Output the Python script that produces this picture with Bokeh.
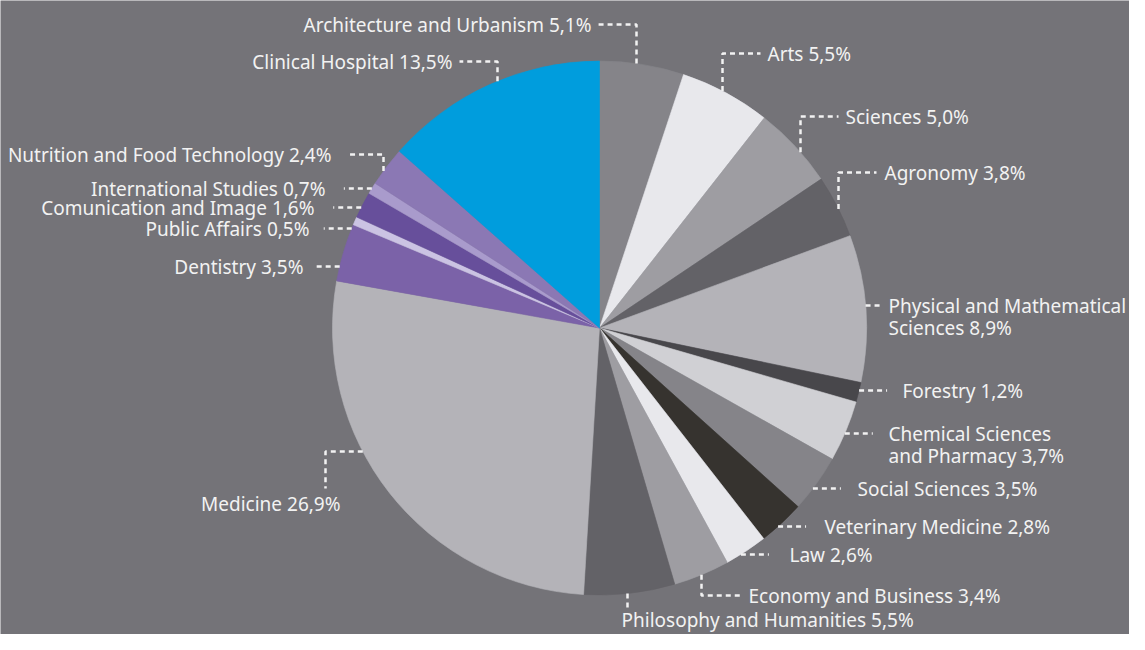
import numpy as np
from bokeh.plotting import figure
from bokeh.models import Range1d
from bokeh.embed import file_html
from bokeh.resources import INLINE
from bokeh.core.properties import value

# ---- data ----
categories = ["Architecture and Urbanism", "Arts", "Sciences", "Agronomy",
              "Physical and Mathematical Sciences", "Forestry",
              "Chemical Sciences and Pharmacy", "Social Sciences",
              "Veterinary Medicine", "Law", "Economy and Business",
              "Philosophy and Humanities", "Medicine", "Dentistry",
              "Public Affairs", "Comunication and Image", "International Studies",
              "Nutrition and Food Technology", "Clinical Hospital"]
shares = [5.1, 5.5, 5.0, 3.8, 8.9, 1.2, 3.7, 3.5, 2.8, 2.6, 3.4, 5.5, 26.9,
          3.5, 0.5, 1.6, 0.7, 2.4, 13.5]

# ---- styles ----
slice_colors = ["#858489", "#e8e8ec", "#9e9da2", "#636267", "#b4b3b8", "#48474b",
                "#d0d0d4", "#858489", "#36332f", "#e8e8ec", "#9e9da2", "#636267",
                "#b4b3b8", "#7b62a8", "#cbc3e3", "#674f9b", "#a99bcc", "#8b78b4",
                "#009ddd"]
BG = "#747378"
FG = "#f2f2f2"

# ---- layout (picture pixel coordinates, origin top-left) ----
W, H = 1129, 634
CX, CY, R = 599.0, 327.5, 267.0
# kind, text x, text y, align, wrap(after n words), leader params
layout = [
    ("elbow", 591, 24, "right", 0, dict(vx=636, ly=24, hx=598)),
    ("elbow", 767, 53, "left", 0, dict(vx=722, ly=53, hx=760)),
    ("elbow", 845, 116, "left", 0, dict(vx=800, ly=116, hx=838)),
    ("elbow", 884, 172, "left", 0, dict(vx=838, ly=172, hx=876)),
    ("h", 888, 305, "left", 3, dict(ly=305, ln=16)),
    ("h", 902, 390, "left", 0, dict(ly=390, ln=28)),
    ("h", 888, 433, "left", 2, dict(ly=433, ln=28)),
    ("h", 857, 488, "left", 0, dict(ly=488, ln=28)),
    ("h", 824, 526, "left", 0, dict(ly=526, ln=28)),
    ("h", 789, 554, "left", 0, dict(ly=554, ln=28)),
    ("elbow", 748, 595, "left", 0, dict(vx=701, ly=595, hx=740)),
    ("v", 621, 619, "left", 0, dict(vx=627, ly=607)),
    ("hv", 340, 503, "right", 0, dict(hy=451, vx=325, ly=488)),
    ("h", 303, 266, "right", 0, dict(ly=266, ln=26)),
    ("h", 309, 228, "right", 0, dict(ly=228, ln=28)),
    ("h", 314, 207, "right", 0, dict(ly=207, ln=28)),
    ("h", 325, 188, "right", 0, dict(ly=188, ln=28)),
    ("elbow", 331, 154, "right", 0, dict(vx=383, ly=154, hx=346)),
    ("elbow", 452, 61, "right", 0, dict(vx=497, ly=61, hx=459)),
]

def Y(y):
    return H - y

p = figure(width=W, height=H, output_backend="svg", toolbar_location=None,
           x_range=Range1d(0, W), y_range=Range1d(0, H),
           x_axis_location=None, y_axis_location=None, min_border=0)
p.grid.visible = False
p.outline_line_color = None
p.background_fill_color = BG
p.border_fill_color = BG

# ---- wedges ----
vals = np.array(shares, dtype=float)
frac = vals / vals.sum()
cum_end = np.cumsum(frac)
cum_start = cum_end - frac
start_angle = np.pi / 2 - 2 * np.pi * cum_end
end_angle = np.pi / 2 - 2 * np.pi * cum_start
p.wedge(x=CX, y=Y(CY), radius=R, start_angle=list(start_angle),
        end_angle=list(end_angle), direction="anticlock",
        fill_color=slice_colors, line_color=slice_colors, line_width=0.6)

# ---- leaders & labels ----
def circ_y(x, lower):
    d = np.sqrt(max(R * R - (x - CX) ** 2, 0))
    return CY + d if lower else CY - d

def circ_x(y, right):
    d = np.sqrt(max(R * R - (y - CY) ** 2, 0))
    return CX + d if right else CX - d

lx, ly_ = [], []
tx, ty, tt, ta = [], [], [], []
for cat, v, (kind, x0, y0, align, wrap, lp) in zip(categories, shares, layout):
    if kind == "elbow":
        lower = lp["ly"] > CY
        y_edge = circ_y(lp["vx"], lower)
        xs = [lp["vx"], lp["vx"], lp["hx"]]
        ys = [y_edge, lp["ly"], lp["ly"]]
    elif kind == "h":
        right = align == "left"
        x_edge = circ_x(lp["ly"], right)
        x_end = x_edge + lp["ln"] if right else x_edge - lp["ln"]
        xs = [x_edge, x_end]
        ys = [lp["ly"], lp["ly"]]
    elif kind == "v":
        y_edge = circ_y(lp["vx"], True)
        xs = [lp["vx"], lp["vx"]]
        ys = [y_edge, lp["ly"]]
    else:  # hv
        x_edge = circ_x(lp["hy"], False)
        xs = [x_edge, lp["vx"], lp["vx"]]
        ys = [lp["hy"], lp["hy"], lp["ly"]]
    lx.append(xs)
    ly_.append([Y(y) for y in ys])

    label = (f"{cat} {v:.1f}".replace(".", ",")) + "%"
    words = label.split(" ")
    lines = [label] if not wrap else [" ".join(words[:wrap]), " ".join(words[wrap:])]
    for i, line in enumerate(lines):
        tx.append(x0)
        ty.append(Y(y0 + 22.5 * i))
        tt.append(line)
        ta.append(align)

p.multi_line(xs=lx, ys=ly_, line_color=FG, line_width=2.5, line_dash="5 4")
p.text(x=tx, y=ty, text=tt, text_align=ta, text_baseline="middle",
       text_font=value("Noto Sans"), text_font_size="19px", text_color=FG)

open("out.html", "w").write(file_html(p, INLINE))
